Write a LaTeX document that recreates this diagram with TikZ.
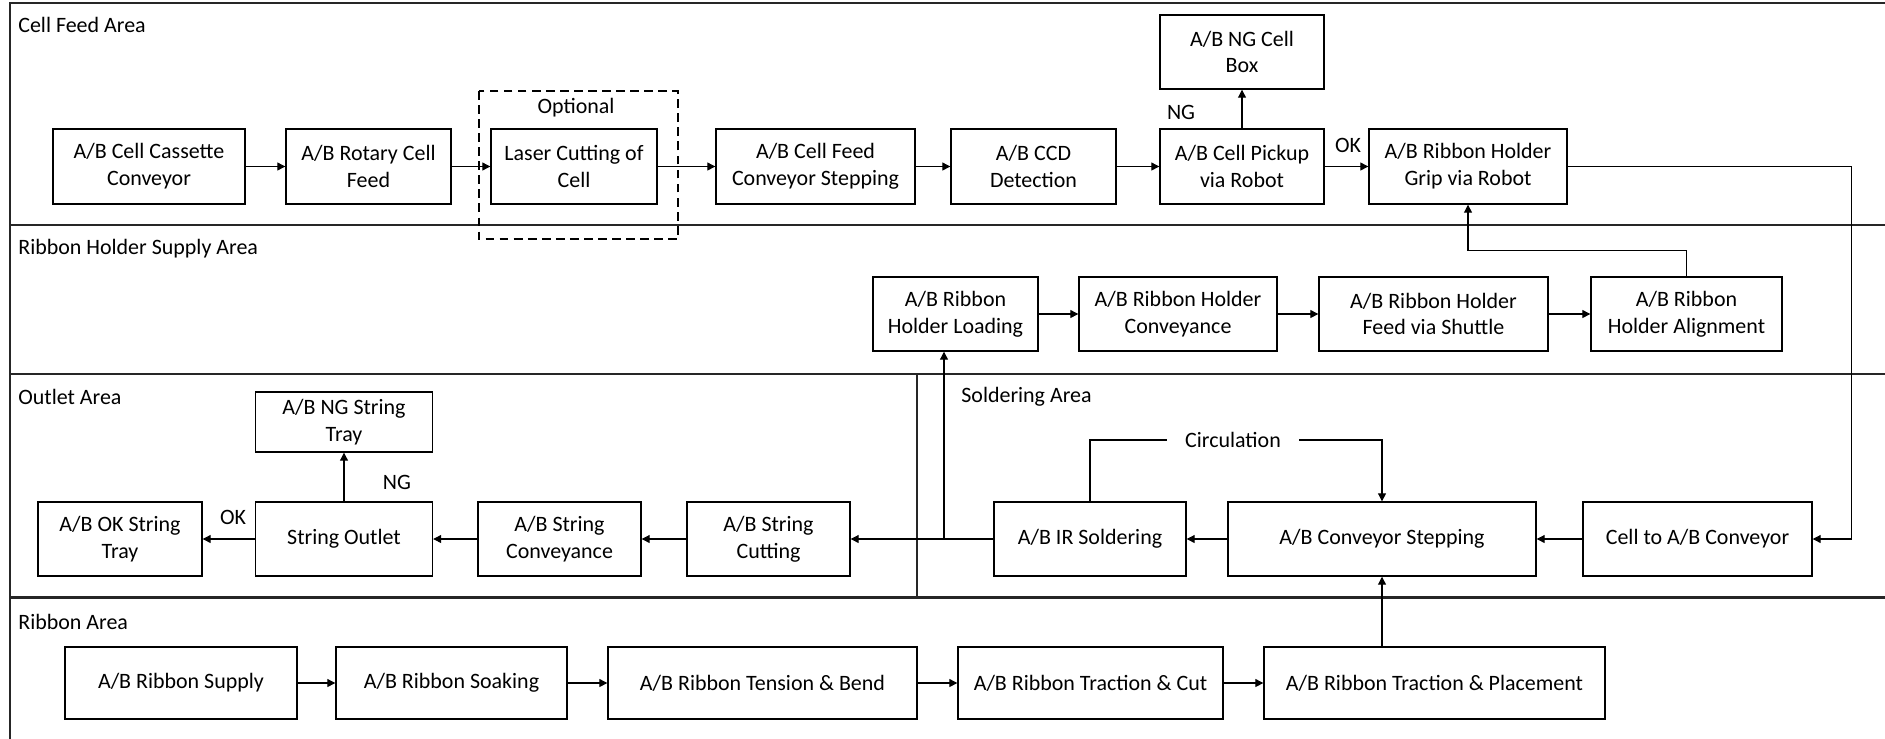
\documentclass[tikz,border=0pt]{standalone}
\usepackage{fontspec}
\setmainfont{Carlito}
\usetikzlibrary{arrows.meta}

\tikzset{
  blk/.style={draw, line width=0.8pt, align=center, inner sep=1pt, minimum height=1.48cm},
  flow/.style={-{Triangle[length=4.5pt,width=4.5pt]}, line width=0.6pt},
  link/.style={line width=0.6pt},
  area/.style={draw, line width=0.9pt, black!85},
  lbl/.style={anchor=west, inner sep=0pt}
}

\begin{document}
\begin{tikzpicture}[x=0.02cm, y=-0.02cm, font=\fontsize{12.5}{15.3}\selectfont]
	\useasboundingbox (0,0) rectangle (1885,738);
	\clip (0,0) rectangle (1885,738);

	% areas
	\draw[area] (10,3) rectangle (1900,225);
	\draw[area] (10,225) rectangle (1900,374);
	\draw[area] (10,374) rectangle (917,597);
	\draw[area] (917,374) rectangle (1900,597);
	\draw[area] (10,598.5) rectangle (1900,760);

	\node[lbl] (cellarea) at (18,25) {Cell Feed Area};
	\node[lbl] (holderarea) at (18,249) {Ribbon Holder Supply Area};
	\node[lbl] (outletarea) at (18,397) {Outlet Area};
	\node[lbl] (solderarea) at (961,397) {Soldering Area};
	\node[lbl] (ribbonarea) at (18,622) {Ribbon Area};

	% cell feed
	\node[blk, minimum width=3.84cm, minimum height=1.5cm] (cassette) at (149,166.5) {A/B Cell Cassette\\Conveyor};
	\node[blk, minimum width=3.3cm, minimum height=1.5cm] (rotary) at (368.5,166.5) {A/B Rotary Cell\\Feed};
	\node[blk, minimum width=3.32cm, minimum height=1.5cm] (laser) at (574,166.5) {Laser Cutting of\\Cell};
	\node[blk, minimum width=3.98cm, minimum height=1.5cm] (feedstep) at (815.5,166.5) {A/B Cell Feed\\Conveyor Stepping};
	\node[blk, minimum width=3.3cm, minimum height=1.5cm] (ccd) at (1033.5,166.5) {A/B CCD\\Detection};
	\node[blk, minimum width=3.28cm, minimum height=1.5cm] (pickup) at (1242,166.5) {A/B Cell Pickup\\via Robot};
	\node[blk, minimum width=3.96cm, minimum height=1.5cm] (grip) at (1468,166.5) {A/B Ribbon Holder\\Grip via Robot};
	\node[blk, minimum width=3.28cm] (ngbox) at (1242,52) {A/B NG Cell\\Box};
	\draw[dashed, dash pattern=on 5pt off 3pt, line width=0.8pt] (479,91) rectangle (678,239);
	\node (optional) at (576,108) {Optional};
	\node (ngcell) at (1181,112) {NG};
	\node (okcell) at (1348,145) {OK};

	% ribbon holder supply
	\node[blk, minimum width=3.3cm] (loading) at (955.5,314) {A/B Ribbon\\Holder Loading};
	\node[blk, minimum width=3.96cm] (hconvey) at (1178,314) {A/B Ribbon Holder\\Conveyance};
	\node[blk, minimum width=4.58cm] (shuttle) at (1433.5,314) {A/B Ribbon Holder\\Feed via Shuttle};
	\node[blk, minimum width=3.82cm] (align) at (1686.5,314) {A/B Ribbon\\Holder Alignment};

	% outlet
	\node[blk, minimum width=3.28cm] (oktray) at (120,539) {A/B OK String\\Tray};
	\node[blk, minimum width=3.54cm] (outlet) at (344,539) {String Outlet};
	\node[blk, minimum width=3.26cm] (sconvey) at (559.5,539) {A/B String\\Conveyance};
	\node[blk, minimum width=3.26cm] (scut) at (768.5,539) {A/B String\\Cutting};
	\node[blk, minimum width=3.54cm, minimum height=1.2cm] (ngtray) at (344,422) {A/B NG String\\Tray};
	\node (ngstr) at (397,482) {NG};
	\node (okstr) at (233,517) {OK};

	% soldering
	\node[blk, minimum width=3.84cm] (ir) at (1090,539) {A/B IR Soldering};
	\node[blk, minimum width=6.16cm] (cstep) at (1382,539) {A/B Conveyor Stepping};
	\node[blk, minimum width=4.58cm] (cellconv) at (1697.5,539) {Cell to A/B Conveyor};
	\node[inner xsep=0.36cm] (circ) at (1233,440) {Circulation};

	% ribbon
	\node[blk, minimum width=4.64cm, minimum height=1.44cm] (rsupply) at (181,683) {A/B Ribbon Supply};
	\node[blk, minimum width=4.62cm, minimum height=1.44cm] (soak) at (451.5,683) {A/B Ribbon Soaking};
	\node[blk, minimum width=6.18cm, minimum height=1.44cm] (tension) at (762.5,683) {A/B Ribbon Tension \& Bend};
	\node[blk, minimum width=5.3cm, minimum height=1.44cm] (tcut) at (1090.5,683) {A/B Ribbon Traction \& Cut};
	\node[blk, minimum width=6.82cm, minimum height=1.44cm] (place) at (1434.5,683) {A/B Ribbon Traction \& Placement};

	% flow
	\foreach \a/\b in {cassette/rotary, rotary/laser, laser/feedstep, feedstep/ccd, ccd/pickup, pickup/grip,
		loading/hconvey, hconvey/shuttle, shuttle/align,
		cellconv/cstep, cstep/ir, ir/scut, scut/sconvey, sconvey/outlet, outlet/oktray,
		rsupply/soak, soak/tension, tension/tcut, tcut/place}
		\draw[flow] (\a) -- (\b);
	\draw[flow] (pickup) -- (ngbox);
	\draw[flow] (outlet) -- (ngtray);

	\coordinate (loopr) at (1851,166.5);
	\draw[flow] (grip.east) -- (loopr) |- (cellconv.east);
	\draw[flow] (align.north) -- ++(0,-26) -| (grip.south);
	\coordinate (split) at (944,539);
	\draw[flow] (split) -- (split |- loading.south);
	\draw[link] (ir.north) |- (circ.west);
	\draw[flow] (circ.east) -| (cstep.north);
	\draw[flow] (place.north -| cstep.south) -- (cstep.south);

\end{tikzpicture}
\end{document}
